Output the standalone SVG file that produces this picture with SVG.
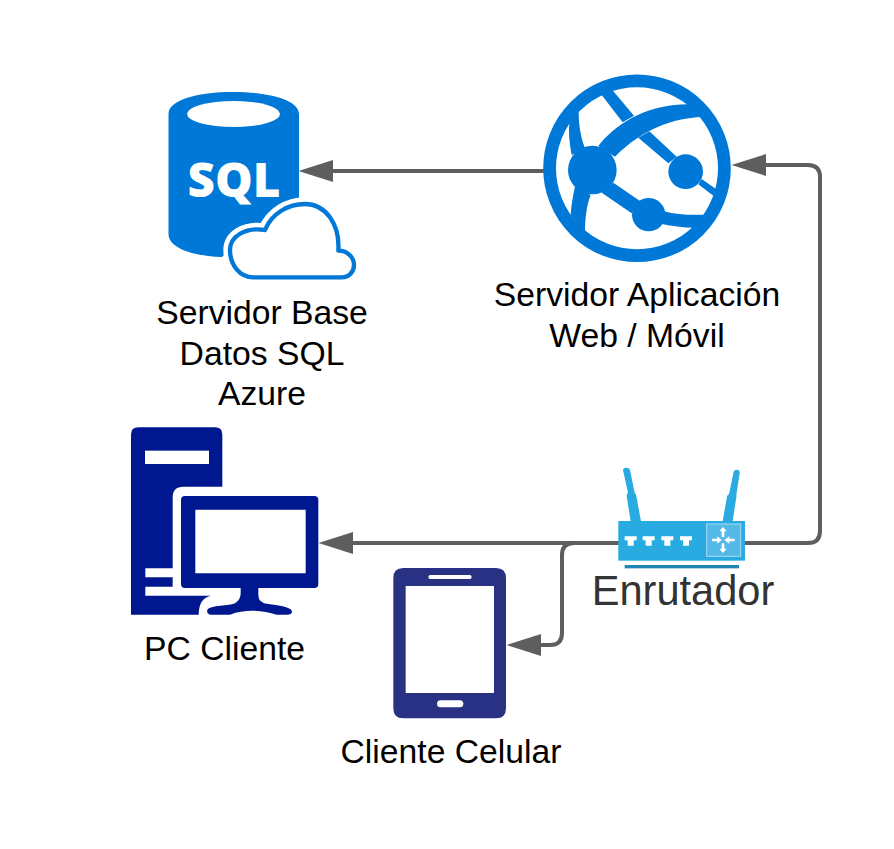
<svg xmlns="http://www.w3.org/2000/svg" width="894" height="849" viewBox="0 0 894 849">
<style>
text{font-family:"Liberation Sans",Arial,sans-serif;font-size:33.700px;fill:#000;text-anchor:middle}
.c{fill:none;stroke:#5e5e5e;stroke-width:4;stroke-linejoin:round}
.a{fill:#5e5e5e}
.az{fill:#0078d7}
.w{fill:#fff}
.r{fill:#29abe2}
</style>
<rect width="894" height="849" fill="#fff"/>
<g id="connectors">
<path class="c" d="M545 171H330"/>
<path class="a" d="M298.500 171L333 160V182Z"/>
<path class="c" d="M745 543H808Q820 543 820 531V177Q820 165 808 165H762"/>
<path class="a" d="M731.500 165L766 154V176Z"/>
<path class="c" d="M620 543H350"/>
<path class="a" d="M318.500 543L353 532V554Z"/>
<path class="c" d="M574 543Q562 543 562 555V633Q562 645 550 645H538"/>
<path class="a" d="M506.500 645L541 634V656Z"/>
</g>
<g id="sql-server">
<path class="az" d="M168.500 114C168.500 100 197 92 233.500 92S299 100 299 114V240H240L222 257C190 256 168.500 247 168.500 234Z"/>
<ellipse class="w" cx="233.500" cy="114" rx="46.500" ry="13"/>
<text x="234" y="197" style="font-family:'Open Sans','Liberation Sans',sans-serif;font-weight:800;font-size:47.500px;fill:#fff">SQL</text>
<g transform="translate(150 80) scale(.33333)">
<path fill="#fff" stroke="#fff" stroke-width="40" stroke-linejoin="round" d="M240 510C240 470 285 440 345 450C365 400 415 372 465 372C525 372 570 430 565 512C595 512 612 535 612 555C612 575 597 592 575 592H310C270 592 240 555 240 510Z"/>
<path fill="#fff" stroke="#0078d7" stroke-width="13" stroke-linejoin="round" d="M240 510C240 470 285 440 345 450C365 400 415 372 465 372C525 372 570 430 565 512C595 512 612 535 612 555C612 575 597 592 575 592H310C270 592 240 555 240 510Z"/>
</g>
<text x="262" y="323.500">Servidor Base</text>
<text x="262" y="364.500">Datos SQL</text>
<text x="262" y="404.500">Azure</text>
</g>
<g id="web-app-server">
<circle cx="637" cy="168.300" r="87.400" fill="#fff" stroke="#0078d7" stroke-width="12.800"/>
<g transform="translate(530 65) scale(.33333)">
<path class="az" d="M205 243C250 185 340 118 475 118L515 156C430 160 340 190 255 275Z"/>
<path class="az" d="M215 90L247 75L312 152L278 172Z"/>
<path class="az" d="M325 218L358 199L440 275L415 295Z"/>
<path class="az" d="M515 342L558 372L550 392L505 358Z"/>
<path class="az" d="M250 353L330 408L305 445L215 383Z"/>
<path class="az" d="M400 438C440 450 480 450 525 449L490 488C460 488 425 483 395 477Z"/>
<path class="az" d="M118 170L146 140C146 180 152 215 165 250L125 270C118 235 115 200 118 170Z"/>
<path class="az" d="M135 365L182 390C170 420 165 460 165 505L122 450C124 420 128 395 135 365Z"/>
<circle class="az" cx="187" cy="315" r="73"/>
<circle class="az" cx="467" cy="320" r="52"/>
<circle class="az" cx="356" cy="449" r="50"/>
</g>
<text x="637" y="306">Servidor Aplicación</text>
<text x="637" y="347">Web / Móvil</text>
</g>
<g id="pc-client">
<g transform="translate(120 420) scale(.33333)" fill="#00188f">
<path d="M33 44Q33 22 55 22H285Q307 22 307 44V200H190Q158 200 158 232V445H76V472H158V500H76V527H272Q236 535 236 584H33Z"/>
<rect class="w" x="75" y="92" width="192" height="40"/>
<path fill-rule="evenodd" d="M195 228H583Q595 228 595 240V492Q595 504 583 504H415V525Q415 550 445 552Q516 560 516 575Q516 584 500 584H470C430 572 380 565 330 584H275C262 584 260 575 262 570C270 555 330 558 345 550Q362 540 362 520V504H195Q183 504 183 492V240Q183 228 195 228ZM226 269V460H557V269Z"/>
</g>
<text x="224.500" y="659.500">PC Cliente</text>
</g>
<g id="mobile-client">
<g transform="translate(385 560) scale(.33333)">
<path fill="#283184" fill-rule="evenodd" d="M55 24H333Q363 24 363 54V445Q363 475 333 475H55Q25 475 25 445V54Q25 24 55 24ZM62 78V399H327V78Z"/>
<rect class="w" x="130" y="45" width="130" height="12" rx="6"/>
<rect class="w" x="156" y="421" width="79" height="21" rx="10.500"/>
</g>
<text x="451" y="762.500">Cliente Celular</text>
</g>
<g id="router">
<g transform="translate(540 460) scale(.33333)">
<path class="r" d="M249 30Q250 23 258 23Q268 23 270 30L284 98Q288 100 289 108L303 184H272L260 108Q260 100 264 98Z"/>
<path class="r" d="M581 35Q583 29 591 29Q600 30 599 38L589 105Q590 112 588 118L578 184H548L561 110Q562 104 567 103Z"/>
<rect class="r" x="235" y="183" width="380" height="119"/>
<rect x="500" y="192" width="102" height="97" fill="#55b9e8" stroke="#a8dcf4" stroke-width="3"/>
<rect x="254" y="315" width="343" height="10" fill="#1e87b5"/>
<path class="w" d="M254 229H290V241H281V257H263V241H254Z"/>
<path class="w" d="M308 229H344V241H335V257H317V241H308Z"/>
<path class="w" d="M364 229H400V241H391V257H373V241H364Z"/>
<path class="w" d="M420 229H456V241H447V257H429V241H420Z"/>
<path class="w" d="M549 201L560 214H553V231H545V214H538Z"/>
<path class="w" d="M549 279L538 266H545V250H553V266H560Z"/>
<path class="w" d="M545 240L532 251V244H516V236H532V229Z"/>
<path class="w" d="M553 240L568 229V236H584V244H568V251Z"/>
</g>
<text x="683" y="604.500" style="font-size:41.600px;fill:#333">Enrutador</text>
</g>
</svg>
